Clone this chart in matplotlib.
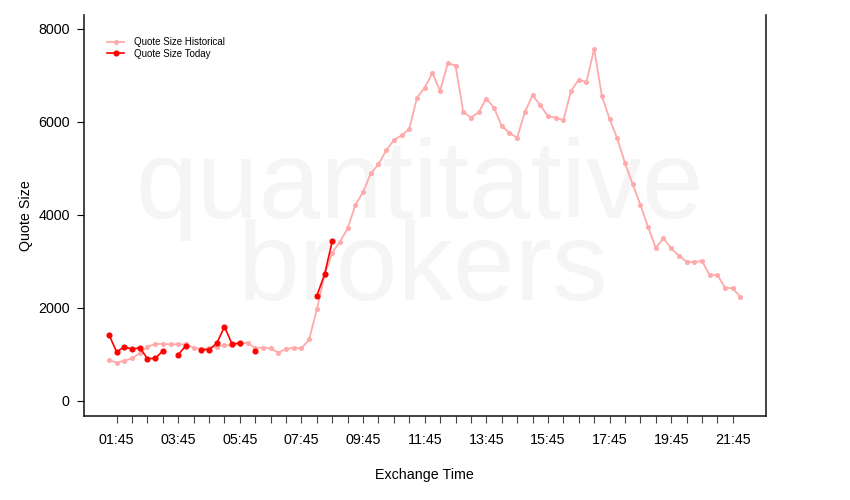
import numpy as np
import matplotlib
matplotlib.use("Agg")
import matplotlib.pyplot as plt
from matplotlib.ticker import FixedLocator

plt.rcParams['font.family'] = ['Liberation Sans', 'DejaVu Sans']

# quarter-hour buckets from 01:30 to 22:00 (exchange time, hours)
start_hour = 1.5
step_hour = 0.25

hist_size = [880, 824, 867, 917, 1025, 1168, 1226, 1226, 1218, 1218,
             1218, 1147, 1118, 1140, 1168, 1200, 1197, 1226, 1254, 1140,
             1150, 1133, 1040, 1125, 1140, 1133, 1326, 1971, 2710, 3190,
             3427, 3713, 4215, 4495, 4896, 5089, 5390, 5612, 5713, 5849,
             6523, 6738, 7054, 6667, 7262, 7211, 6222, 6093, 6208, 6501,
             6307, 5914, 5766, 5662, 6208, 6573, 6365, 6122, 6093, 6036,
             6667, 6910, 6860, 7570, 6566, 6065, 5649, 5118, 4667, 4222,
             3742, 3297, 3498, 3283, 3125, 2996, 2989, 3011, 2710, 2710,
             2437, 2423, 2237]

nan = np.nan
today_size = [1426, 1054, 1168, 1111, 1147, 910, 917, 1075, nan, 997,
              1190, nan, 1104, 1104, 1240, 1598, 1218, 1254, nan, 1068,
              nan, nan, nan, nan, nan, nan, nan, 2265, 2724, 3441]
today_size = today_size + [nan] * (len(hist_size) - len(today_size))

tick_labels = ["01:45", "03:45", "05:45", "07:45", "09:45", "11:45",
               "13:45", "15:45", "17:45", "19:45", "21:45"]
y_ticks = [0, 2000, 4000, 6000, 8000]

hours = start_hour + step_hour * np.arange(len(hist_size))
major_pos = 1.75 + 2.0 * np.arange(len(tick_labels))
minor_pos = np.arange(1.75, 21.76, 0.5)

fig = plt.figure(figsize=(8.5, 5), dpi=100)
ax = fig.add_axes([83.7 / 850, 1 - 416 / 500, 682 / 850, 401 / 500])

# watermark
wm_color = '#f5f5f5'
ax.text(0.493, (416 - 218) / 401, "quantitative", transform=ax.transAxes,
        ha='center', va='baseline', fontsize=80, color=wm_color, zorder=0)
ax.text(0.498, (416 - 300) / 401, "brokers", transform=ax.transAxes,
        ha='center', va='baseline', fontsize=80, color=wm_color, zorder=0)

ax.plot(hours, hist_size, color='#ffaaaa', lw=1.3, marker='o', ms=2.6,
        label="Quote Size Historical", zorder=2)
ax.plot(hours, today_size, color='#ff0000', lw=1.2, marker='o', ms=3.4,
        label="Quote Size Today", zorder=3)

ax.set_xlim(0.68, 22.82)
ax.set_ylim(-323, 8301)

ax.xaxis.set_major_locator(FixedLocator(major_pos))
ax.xaxis.set_minor_locator(FixedLocator(minor_pos))
ax.set_xticklabels(tick_labels)
ax.set_yticks(y_ticks)
ax.tick_params(axis='x', which='both', length=5, width=0.8, color='#444444',
               labelsize=10.3, pad=7)
ax.tick_params(axis='y', length=5, width=0.8, labelsize=10.3, pad=5)

for side in ['left', 'right', 'bottom']:
    ax.spines[side].set_linewidth(1.2)
    ax.spines[side].set_color('#222222')
ax.spines['top'].set_visible(False)

ax.set_xlabel("Exchange Time", fontsize=10.3, labelpad=15)
ax.set_ylabel("Quote Size", fontsize=10.3, labelpad=4)

ax.legend(loc='upper left', bbox_to_anchor=(0.027, 0.957), frameon=False,
          fontsize=7, handlelength=1.8, handletextpad=1.0, labelspacing=0.15,
          borderpad=0)

fig.savefig("out.png", dpi=100)
